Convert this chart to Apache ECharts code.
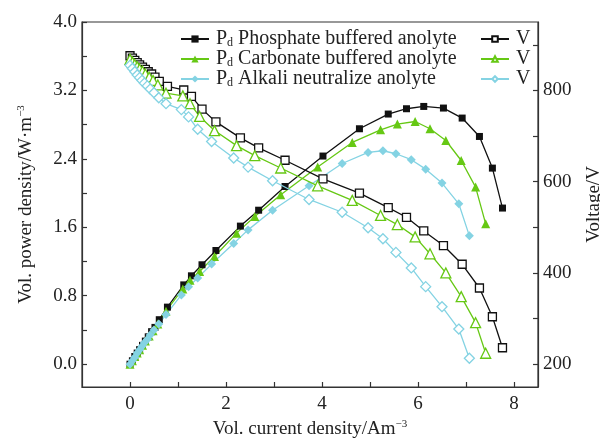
<!DOCTYPE html>
<html><head><meta charset="utf-8">
<script src="https://cdn.jsdelivr.net/npm/echarts@6/dist/echarts.min.js"></script>
<style>html,body{margin:0;padding:0;background:#fff}#c{width:600px;height:443px}</style>
</head><body><div id="c"></div>
<script>
// Current density (A/m^3) for each anolyte
const phosX = [0, 0.05, 0.1, 0.15, 0.2, 0.26, 0.32, 0.38, 0.45, 0.52, 0.61, 0.78, 1.12, 1.28, 1.5, 1.79, 2.3, 2.68, 3.23, 4.02, 4.78, 5.38, 5.76, 6.12, 6.53, 6.92, 7.28, 7.55, 7.76];
const phosV = [876, 871, 866, 861, 856, 851, 846, 841, 836, 829, 820, 809, 801, 787, 759, 731, 696, 674, 647, 606, 575, 543, 522, 492, 460, 419, 367, 304, 236];
const phosP = [0, 0.04, 0.09, 0.13, 0.17, 0.22, 0.27, 0.32, 0.38, 0.43, 0.52, 0.667, 0.927, 1.033, 1.162, 1.329, 1.614, 1.80, 2.077, 2.433, 2.752, 2.924, 2.986, 3.013, 2.994, 2.877, 2.662, 2.292, 1.825];

const carbX = [0, 0.05, 0.1, 0.15, 0.2, 0.26, 0.32, 0.4, 0.48, 0.58, 0.75, 1.10, 1.25, 1.45, 1.76, 2.22, 2.6, 3.14, 3.91, 4.63, 5.22, 5.57, 5.94, 6.25, 6.58, 6.90, 7.20, 7.41];
const carbV = [868, 862, 857, 852, 847, 842, 836, 829, 822, 812, 794, 788, 771, 743, 712, 679, 657, 630, 591, 559, 526, 506, 479, 442, 400, 348, 291, 224];
const carbP = [0, 0.04, 0.09, 0.13, 0.17, 0.22, 0.27, 0.33, 0.39, 0.47, 0.62, 0.88, 0.98, 1.083, 1.258, 1.532, 1.726, 1.98, 2.304, 2.592, 2.74, 2.807, 2.837, 2.752, 2.615, 2.381, 2.07, 1.641];

const alkX = [0, 0.05, 0.1, 0.15, 0.2, 0.25, 0.3, 0.36, 0.42, 0.5, 0.6, 0.75, 1.07, 1.22, 1.41, 1.70, 2.16, 2.46, 2.97, 3.73, 4.42, 4.96, 5.27, 5.54, 5.86, 6.16, 6.50, 6.85, 7.07];
const alkV = [855, 848, 841, 834, 828, 822, 816, 810, 803, 795, 784, 771, 758, 742, 715, 688, 652, 632, 602, 561, 533, 499, 475, 445, 411, 370, 326, 277, 213];
const alkP = [0, 0.04, 0.08, 0.13, 0.17, 0.21, 0.25, 0.29, 0.34, 0.40, 0.47, 0.58, 0.81, 0.905, 1.008, 1.17, 1.41, 1.57, 1.80, 2.085, 2.346, 2.475, 2.495, 2.46, 2.39, 2.28, 2.117, 1.875, 1.50];

const xLabels = [0, 2, 4, 6, 8];
const xTicks = [0, 1, 2, 3, 4, 5, 6, 7, 8];
const pLabels = [0, 0.8, 1.6, 2.4, 3.2, 4.0];
const pTicks = [0, 0.4, 0.8, 1.2, 1.6, 2.0, 2.4, 2.8, 3.2, 3.6, 4.0];
const vLabels = [200, 400, 600, 800];
const vTicks = [200, 300, 400, 500, 600, 700, 800, 900];

const legendNames = {
  'Pd Phosphate': 'Phosphate buffered anolyte',
  'Pd Carbonate': 'Carbonate buffered anolyte',
  'Pd Alkali': 'Alkali neutralize anolyte'
};

const FONT = 'Liberation Serif';
const BLACK = '#111111', GREEN = '#66c814', CYAN = '#84d3e3', AX = '#333333';
const FS = 19;
const LFS = 20;

function pairs(xs, ys) { return xs.map((x, i) => [x, ys[i]]); }

const chart = echarts.init(document.getElementById('c'), null, {renderer: 'canvas'});

const axisLineStyle = {color: AX, width: 1.2};
const labelStyle = {fontFamily: FONT, fontSize: FS, color: '#222'};
const supRich = {sup: {fontFamily: FONT, fontSize: 11, color: '#222', verticalAlign: 'top', padding: [0, 0, 9, 0]}};

function filledSeries(name, xs, ys, color, symbol, size) {
  return {
    name, type: 'line', yAxisIndex: 0, data: pairs(xs, ys),
    symbol, symbolSize: size, showSymbol: true,
    lineStyle: {color, width: 1.3},
    itemStyle: {color, borderWidth: 0},
    emphasis: {disabled: true}, animation: false, z: 3
  };
}
function openSeries(name, xs, ys, color, symbol, size) {
  return {
    name, type: 'line', yAxisIndex: 1, data: pairs(xs, ys),
    symbol, symbolSize: size, showSymbol: true,
    lineStyle: {color, width: 1.3},
    itemStyle: {color: '#ffffff', borderColor: color, borderWidth: 1.3},
    emphasis: {disabled: true}, animation: false, z: 4
  };
}

chart.setOption({
  backgroundColor: '#fff',
  animation: false,
  grid: {left: 82, right: 62, top: 22, bottom: 56, outerBoundsMode: 'none', containLabel: false,
         show: true, borderColor: AX, borderWidth: 1.2, backgroundColor: 'transparent'},
  legend: [
    {
      orient: 'vertical', left: 175, top: 24, itemGap: 0, itemWidth: 28, itemHeight: 9,
      data: ['Pd Phosphate', 'Pd Carbonate', 'Pd Alkali'],
      formatter: n => '{n|P}{sub|d}{n| ' + legendNames[n] + '}',
      textStyle: {
        fontFamily: FONT, fontSize: LFS, color: '#222', padding: [0, 0, 0, 2],
        rich: {
          n: {fontFamily: FONT, fontSize: LFS, color: '#222', lineHeight: 19},
          sub: {fontFamily: FONT, fontSize: 12, color: '#222', lineHeight: 19, verticalAlign: 'bottom'}
        }
      }
    },
    {
      orient: 'vertical', left: 475, top: 24, itemGap: 0, itemWidth: 28, itemHeight: 7,
      data: ['V Phosphate', 'V Carbonate', 'V Alkali'],
      formatter: () => 'V',
      textStyle: {fontFamily: FONT, fontSize: LFS, color: '#222', lineHeight: 19, padding: [0, 0, 0, 2]}
    }
  ],
  xAxis: {
    type: 'value', min: -1, max: 8.5,
    axisLine: {show: true, onZero: false, lineStyle: axisLineStyle},
    axisTick: {show: true, inside: true, length: 5, customValues: xTicks, lineStyle: axisLineStyle},
    axisLabel: Object.assign({customValues: xLabels, margin: 8}, labelStyle),
    splitLine: {show: false},
    name: 'Vol. current density/Am{sup|−3}', nameLocation: 'middle', nameGap: 22,
    nameTextStyle: Object.assign({rich: supRich}, labelStyle)
  },
  yAxis: [
    {
      type: 'value', min: -0.26667, max: 4.0, position: 'left',
      axisLine: {show: true, onZero: false, lineStyle: axisLineStyle},
      axisTick: {show: true, inside: true, length: 5, customValues: pTicks, lineStyle: axisLineStyle},
      axisLabel: Object.assign({customValues: pLabels, margin: 5, formatter: v => Number(v).toFixed(1)}, labelStyle),
      splitLine: {show: false},
      name: 'Vol. power density/W·m{sup|−3}', nameLocation: 'middle', nameGap: 46,
      nameTextStyle: Object.assign({rich: supRich}, labelStyle)
    },
    {
      type: 'value', min: 150, max: 950, position: 'right',
      axisLine: {show: true, onZero: false, lineStyle: axisLineStyle},
      axisTick: {show: true, inside: true, length: 5, customValues: vTicks, lineStyle: axisLineStyle},
      axisLabel: Object.assign({customValues: vLabels, margin: 5}, labelStyle),
      splitLine: {show: false},
      name: 'Voltage/V', nameLocation: 'middle', nameGap: 47,
      nameTextStyle: labelStyle
    }
  ],
  series: [
    filledSeries('Pd Phosphate', phosX, phosP, BLACK, 'rect', 7),
    filledSeries('Pd Carbonate', carbX, carbP, GREEN, 'triangle', 9),
    filledSeries('Pd Alkali', alkX, alkP, CYAN, 'diamond', 9),
    openSeries('V Phosphate', phosX, phosV, BLACK, 'rect', 8),
    openSeries('V Carbonate', carbX, carbV, GREEN, 'triangle', 10),
    openSeries('V Alkali', alkX, alkV, CYAN, 'diamond', 10)
  ]
});
</script>
</body></html>
